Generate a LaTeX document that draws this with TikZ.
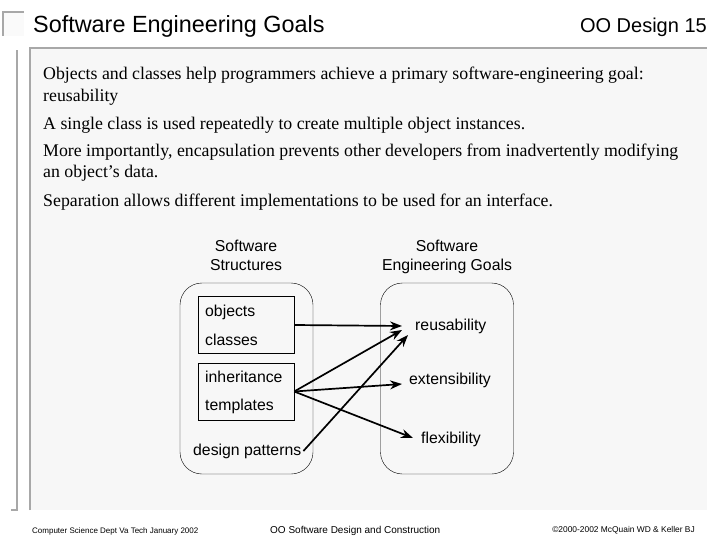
\documentclass[tikz,border=0pt]{standalone}
\usepackage{fontspec}
\setmainfont{Liberation Serif}
\setsansfont{Liberation Sans}
\usetikzlibrary{arrows.meta, positioning}

\begin{document}
\begin{tikzpicture}[x=1pt, y=-1pt,
        frame/.style = {draw=gray!68, line width=1.5pt},
        body/.style = {anchor=base west, inner sep=0pt, font=\fontsize{17.8}{20}\selectfont},
        lbl/.style = {anchor=west, inner sep=0pt, font=\sffamily\fontsize{15.8}{18}\selectfont},
        head/.style = {anchor=north, align=center, inner sep=0pt, font=\sffamily\fontsize{15.8}{18.5}\selectfont},
        group/.style = {draw, rounded corners=22pt, minimum width=133pt, minimum height=191pt},
        box/.style = {draw, minimum width=96pt, minimum height=57pt},
        foot/.style = {anchor=base west, inner sep=0pt, font=\sffamily\fontsize{8}{9}\selectfont},
        arr/.style = {-{Stealth[length=12pt,width=9pt]}, line width=1.7pt}]
        \useasboundingbox (0,0) rectangle (720,540);
        \fill[white] (0,0) rectangle (720,540);
        % slide frame
        \fill[gray!4] (3,12) rectangle (24,36);
        \draw[frame] (3,36) -- (3,12) -- (24,12);
        \fill[gray!6] (30,48) rectangle (707,510);
        \draw[frame] (30,510) -- (30,48) -- (707,48);
        \draw[frame] (11,510) -- (17,510) -- (17,50);
        \node[anchor=base west, inner sep=0pt, font=\sffamily\fontsize{23.4}{28}\selectfont] (title) at (33,32.5) {Software Engineering Goals};
        \node[anchor=base east, inner sep=0pt, font=\sffamily\fontsize{20}{24}\selectfont] (page) at (707,32.5) {OO Design 15};
        % text
        \node[body] (t1) at (43,80) {Objects and classes help programmers achieve a primary software-engineering goal:};
        \node[body] (t2) at (43,102) {reusability};
        \node[body] (t3) at (43,130) {A single class is used repeatedly to create multiple object instances.};
        \node[body] (t4) at (43,157) {More importantly, encapsulation prevents other developers from inadvertently modifying};
        \node[body] (t5) at (43,178) {an object's data.};
        \node[body] (t6) at (43,207) {Separation allows different implementations to be used for an interface.};
        % diagram
        \node[head] (hs) at (246,240) {Software\\Structures};
        \node[head] (hg) at (447,240) {Software\\Engineering Goals};
        \node[group] (ss) at (246.5,378.5) {};
        \node[group] (sg) at (447,378.5) {};
        \node[box] (oc) at (246,325) {};
        \node[box] (it) at (246,391.5) {};
        \node[lbl] (obj) at (205,312) {objects};
        \node[lbl] (cls) at (205,340) {classes};
        \node[lbl] (inh) at (205,377) {inheritance};
        \node[lbl] (tpl) at (205,406) {templates};
        \node[lbl, inner sep=2pt] (dp) at (191,451) {design patterns};
        \node[lbl] (reu) at (415,326) {reusability};
        \node[lbl] (ext) at (409,380) {extensibility};
        \node[lbl] (flx) at (421,439) {flexibility};
        \draw[arr] (oc.east) -- ([xshift=-13pt]reu.west);
        \draw[arr] (it.east) -- ([xshift=-13pt,yshift=-4pt]reu.west);
        \draw[arr] (it.east) -- ([xshift=-7pt,yshift=-4pt]ext.west);
        \draw[arr] (it.east) -- ([xshift=-8pt,yshift=1pt]flx.west);
        \draw[arr] (dp.east) -- ([xshift=-7pt,yshift=-9pt]reu.west);
        % footer
        \node[foot] (f1) at (32,533) {Computer Science Dept Va Tech January 2002};
        \node[foot, font=\sffamily\fontsize{10}{12}\selectfont] (f2) at (270,533) {OO Software Design and Construction};
        \node[foot, anchor=base east, font=\sffamily\fontsize{8.4}{9}\selectfont] (f3) at (695,532) {\textcopyright2000-2002 McQuain WD \& Keller BJ};
\end{tikzpicture}
\end{document}
